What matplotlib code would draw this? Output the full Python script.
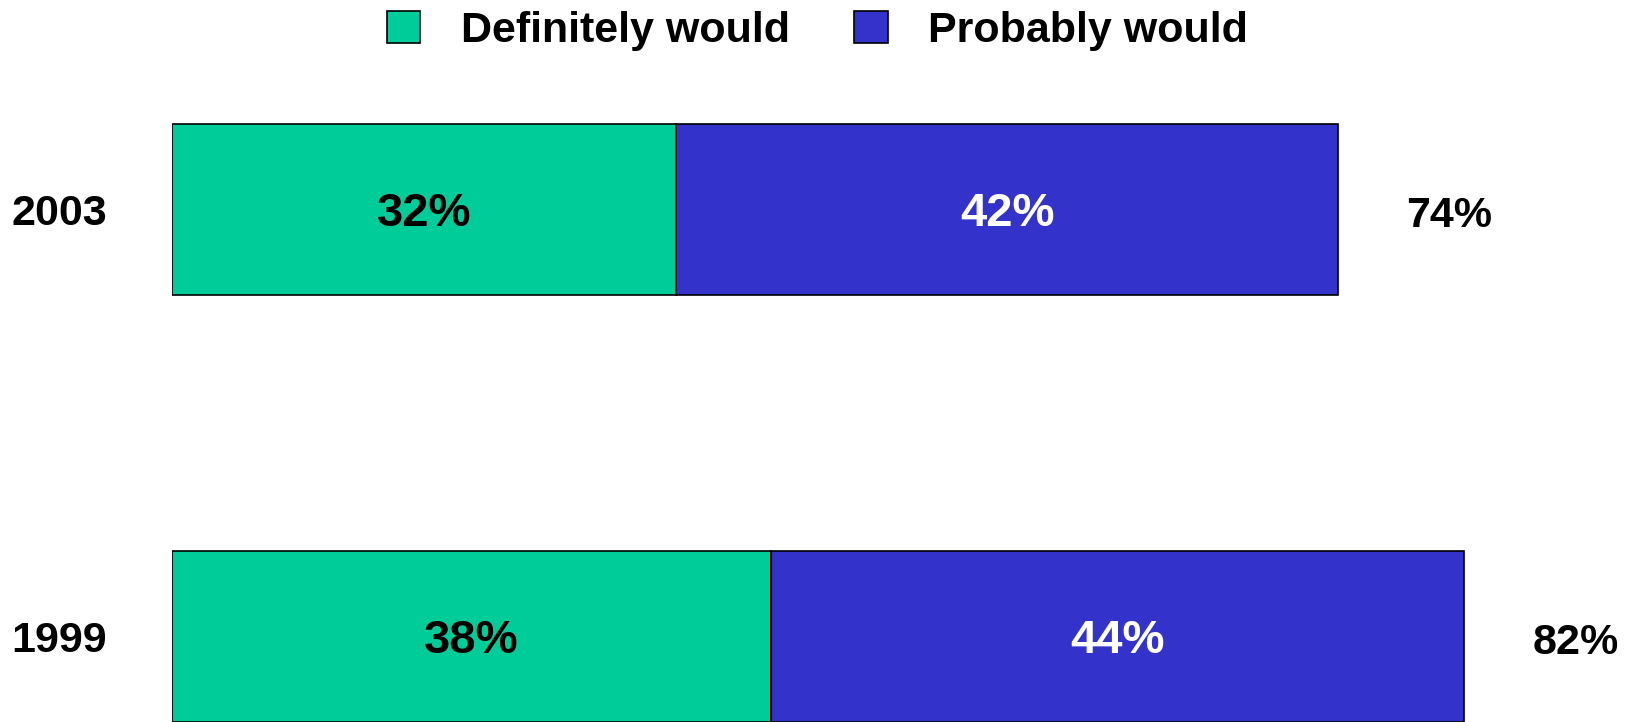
import matplotlib
matplotlib.use("Agg")
import matplotlib.pyplot as plt
from matplotlib.patches import Patch

plt.rcParams['font.family'] = ['Liberation Sans', 'DejaVu Sans']
plt.rcParams['font.weight'] = 'bold'

years = ["1999", "2003"]
definitely = [38, 32]
probably = [44, 42]
series_names = ["Definitely would", "Probably would"]
colors = ["#00CC99", "#3333CC"]

W, H = 1635, 722
fig = plt.figure(figsize=(W / 100, H / 100), dpi=100)
left_px = 172
ax = fig.add_axes([left_px / W, 0, 1 - left_px / W, 1])

ypos = [0, 1]
bar_h = 0.4
ax.barh(ypos, definitely, height=bar_h, color=colors[0], edgecolor="black", linewidth=1.2)
ax.barh(ypos, probably, left=definitely, height=bar_h, color=colors[1], edgecolor="black", linewidth=1.2)

fs_in = 34   # segment labels
fs = 31      # year, total and legend text
for y, d, p in zip(ypos, definitely, probably):
    ax.annotate(f"{d}%", (d / 2, y), xytext=(0, -12.2), textcoords="offset points",
                ha="center", va="baseline", fontsize=fs_in, fontweight="bold", color="black")
    ax.annotate(f"{p}%", (d + p / 2, y), xytext=(0, -12.2), textcoords="offset points",
                ha="center", va="baseline", fontsize=fs_in, fontweight="bold", color="white")
    total = d + p
    ax.annotate(f"{total}%", (total, y), xytext=(49, -12.9), textcoords="offset points",
                ha="left", va="baseline", fontsize=fs, fontweight="bold", color="black")

ax.set_xlim(0, (W - left_px) / 15.76)
ax.set_ylim(-0.2002, 1.4906)
ax.set_yticks(ypos)
ax.set_yticklabels(years, fontsize=fs, fontweight="bold")
ax.tick_params(axis="y", length=0, pad=47)
ax.set_xticks([])
for s in ax.spines.values():
    s.set_visible(False)

handles = [Patch(facecolor=c, edgecolor="black", linewidth=1.2) for c in colors]
fig.legend(handles, series_names, loc="center", bbox_to_anchor=(0.5, 1 - 31 / H), ncol=2,
           frameon=False, prop={"size": fs, "weight": "bold"},
           handlelength=0.77, handleheight=0.77, handletextpad=0.95, columnspacing=1.5,
           borderpad=0, borderaxespad=0)

fig.savefig("out.png", dpi=100)
